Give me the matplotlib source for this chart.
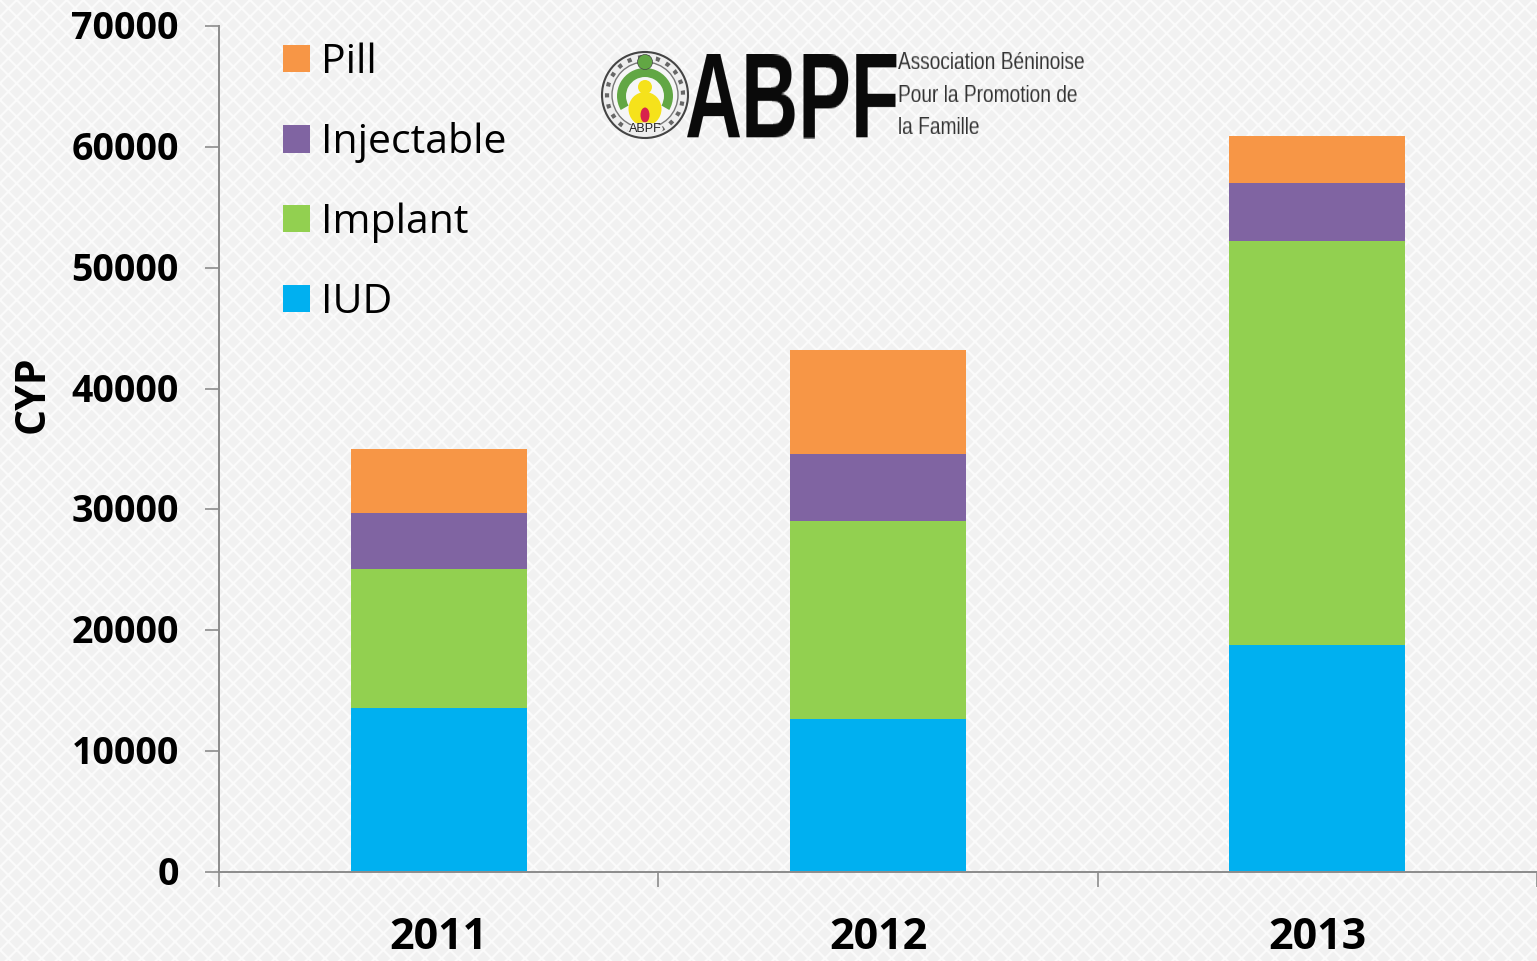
import matplotlib
matplotlib.use("Agg")
import numpy as np
import matplotlib.pyplot as plt
from matplotlib.patches import Rectangle, Circle, Wedge, Ellipse
from matplotlib.transforms import ScaledTranslation

years = ["2011", "2012", "2013"]
iud = [13570, 12660, 18780]
implant = [11500, 16380, 33430]
injectable = [4630, 5550, 4800]
pill = [5300, 8600, 3890]
y_ticks = [0, 10000, 20000, 30000, 40000, 50000, 60000, 70000]


def stretch(factor):
    # pulls drawn text upward, the logo lettering is a tall condensed face
    def f(img, dpi):
        h, w = img.shape[:2]
        new_h = max(int(h * factor), 1)
        ys = np.clip((np.arange(new_h) + 0.5) / factor - 0.5, 0, h - 1)
        i0 = np.clip(ys.astype(int), 0, h - 2)
        t = np.clip(ys - i0, 0, 1)[:, None, None]
        return np.clip(img[i0] * (1 - t) + img[i0 + 1] * t, 0, 1), 0, 0
    return f


plt.rcParams["hatch.linewidth"] = 1.5
W, H = 1537, 961
fig = plt.figure(figsize=(W / 100, H / 100), dpi=100)

# background and logo live in a pixel-coordinate layer
bg = fig.add_axes([0, 0, 1, 1], zorder=0)
bg.set_xlim(0, W)
bg.set_ylim(H, 0)
bg.axis("off")
bg.add_patch(Rectangle((0, 0), W, H, facecolor="#f1f1f1", edgecolor="#fbfbfb", hatch="xx", lw=0))

# emblem
bg.add_patch(Circle((645, 95), 43, facecolor="#eeeeee", edgecolor="#444444", lw=1.5))
bg.add_patch(Circle((645, 95), 38, facecolor="none", edgecolor="#666666", lw=3, ls=":"))
bg.add_patch(Circle((645, 95), 33, facecolor="#f6f6f6", edgecolor="#777777", lw=1))
bg.add_patch(Wedge((645, 96), 28, 150, 390, width=9, facecolor="#62a744", edgecolor="none"))
bg.add_patch(Circle((645, 62), 7.5, facecolor="#62a744", edgecolor="#444444", lw=0.5))
bg.add_patch(Ellipse((645, 109), 33, 34, facecolor="#f5e21b", edgecolor="none"))
bg.add_patch(Circle((645, 87), 7, facecolor="#f5e21b", edgecolor="none"))
bg.add_patch(Ellipse((645, 115), 9, 15, facecolor="#d8234c", edgecolor="none"))
bg.add_patch(Ellipse((645, 129), 36, 13, facecolor="#eeeeee", edgecolor="none"))
bg.text(645, 129, "ABPF", fontsize=9, family="Liberation Sans", ha="center", va="center", color="#222222")

t = bg.text(684, 137, "ABPF", fontsize=57, family="Liberation Sans", fontweight="bold",
            color="#0a0a0a", ha="left", va="baseline")
t.set_agg_filter(stretch(1.52))
for yy, line in zip([69, 102, 134], ["Association Béninoise", "Pour la Promotion de", "la Famille"]):
    t = bg.text(898, yy, line, fontsize=13.8, family="Liberation Sans", color="#333333", ha="left", va="baseline")
    t.set_agg_filter(stretch(1.33))

ax = fig.add_axes([219 / W, 1 - 872 / H, (W - 219) / W, (872 - 26) / H], zorder=1)
ax.patch.set_alpha(0)

x = range(len(years))
bottom = [0, 0, 0]
series = [("IUD", iud, "#00b0f0"), ("Implant", implant, "#92d050"),
          ("Injectable", injectable, "#8064a2"), ("Pill", pill, "#f79646")]
for name, vals, col in series:
    ax.bar(x, vals, width=0.4, bottom=bottom, color=col, label=name)
    bottom = [b + v for b, v in zip(bottom, vals)]

ax.set_xlim(-0.5, 2.5)
ax.set_ylim(0, 70000)
ax.set_yticks(y_ticks)
ax.set_xticks(list(x))
ax.set_xticklabels(years)
ax.set_xticks([-0.5, 0.5, 1.5, 2.5], minor=True)

for s in ["top", "right"]:
    ax.spines[s].set_visible(False)
for s in ["left", "bottom"]:
    ax.spines[s].set_color("#8c8c8c")
    ax.spines[s].set_linewidth(1.4)

ax.tick_params(axis="x", which="major", length=0, pad=32)
ax.tick_params(axis="x", which="minor", length=11, width=1.2, color="#8c8c8c")
ax.tick_params(axis="y", length=10, width=1.2, color="#8c8c8c", pad=19)
for lab in ax.get_xticklabels() + ax.get_yticklabels():
    lab.set_family("Open Sans")
    lab.set_fontweight("bold")
    lab.set_color("black")
for lab in ax.get_xticklabels():
    lab.set_fontsize(31)
for lab in ax.get_yticklabels():
    lab.set_fontsize(27)
    lab.set_transform(lab.get_transform() + ScaledTranslation(0, 1.5 / 100, fig.dpi_scale_trans))

fig.text(33 / W, 1 - 394 / H, "CYP", rotation=90, family="Open Sans", fontweight="bold",
         fontsize=29.5, ha="center", va="center", color="black")

handles, labels = ax.get_legend_handles_labels()
ax.legend(handles[::-1], labels[::-1], loc="upper left", bbox_to_anchor=(52 / (W - 219), 1.0 - 4 / 846),
          frameon=False, prop={"family": "Open Sans", "size": 29.5}, handlelength=0.66, handleheight=0.66,
          handletextpad=0.25, labelspacing=0.96, borderpad=0.3, borderaxespad=0)

fig.savefig("out.png", dpi=100)
